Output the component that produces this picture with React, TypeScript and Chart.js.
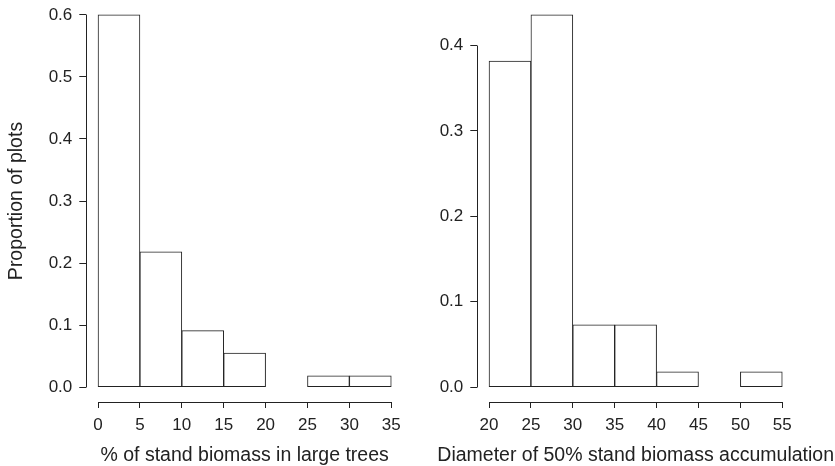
import React, { useEffect, useRef } from "react";
import { Chart, registerables } from "chart.js";

Chart.register(...registerables);

// ---------- data ----------
const binWidth = 5;

const leftBinStarts = [0, 5, 10, 15, 20, 25, 30];
const leftProportions = [0.6, 0.218, 0.091, 0.055, 0, 0.018, 0.018];
const leftXTicks = [0, 5, 10, 15, 20, 25, 30, 35];
const leftYTicks = [0, 0.1, 0.2, 0.3, 0.4, 0.5, 0.6];

const rightBinStarts = [20, 25, 30, 35, 40, 45, 50];
const rightProportions = [0.382, 0.436, 0.073, 0.073, 0.018, 0, 0.018];
const rightXTicks = [20, 25, 30, 35, 40, 45, 50, 55];
const rightYTicks = [0, 0.1, 0.2, 0.3, 0.4];

const leftXTitle = "% of stand biomass in large trees";
const rightXTitle = "Diameter of 50% stand biomass accumulation";
const yTitleText = "Proportion of plots";

// ---------- style ----------
const INK = "#222222";
const FAMILY = '"Liberation Sans", Arial, Helvetica, sans-serif';
const TICK_SIZE = 17;
const TITLE_SIZE = 19.5;

type Panel = {
  starts: number[];
  values: number[];
  xTicks: number[];
  yTicks: number[];
  xTitle: string;
  yTitle?: string;
  canvasLeft: number;
  canvasWidth: number;
  yAxisWidth: number;
  padRight: number;
};

const HEIGHT = 466;
const X_AXIS_HEIGHT = 64;
const TITLE_BASELINE = 461;

const alignPx = (chart: any, px: number, w: number) => {
  const dpr = chart.currentDevicePixelRatio || 1;
  const half = w / 2;
  return Math.round((px - half) * dpr) / dpr + half;
};

const rAxesPlugin = {
  id: "rAxes",
  afterDraw(chart: any, _args: any, opts: any) {
    const { ctx, chartArea } = chart;
    const xs = chart.scales.x;
    const ys = chart.scales.y;
    ctx.save();
    ctx.strokeStyle = INK;
    ctx.lineWidth = 1;
    // x axis line spanning first to last tick
    const xy = alignPx(chart, chartArea.bottom, 1);
    ctx.beginPath();
    ctx.moveTo(alignPx(chart, xs.getPixelForValue(opts.xTicks[0]), 1), xy);
    ctx.lineTo(alignPx(chart, xs.getPixelForValue(opts.xTicks[opts.xTicks.length - 1]), 1), xy);
    ctx.stroke();
    // y axis line spanning first to last tick
    const yx = alignPx(chart, chartArea.left, 1);
    ctx.beginPath();
    ctx.moveTo(yx, alignPx(chart, ys.getPixelForValue(opts.yTicks[0]), 1));
    ctx.lineTo(yx, alignPx(chart, ys.getPixelForValue(opts.yTicks[opts.yTicks.length - 1]), 1));
    ctx.stroke();
    // x axis title, centred on the plot region
    ctx.fillStyle = INK;
    ctx.font = `${TITLE_SIZE}px ${FAMILY}`;
    ctx.textAlign = "center";
    ctx.textBaseline = "alphabetic";
    ctx.fillText(opts.xTitle, (chartArea.left + chartArea.right) / 2, TITLE_BASELINE);
    ctx.restore();
  },
};

function makeConfig(p: Panel): any {
  const xMin = p.xTicks[0];
  const xMax = p.xTicks[p.xTicks.length - 1];
  const xPad = (xMax - xMin) * 0.04;
  const yMaxData = Math.max(...p.values);
  const yPad = yMaxData * 0.04;
  const tickFont = { family: FAMILY, size: TICK_SIZE };
  return {
    type: "bar",
    data: {
      datasets: [
        {
          data: p.starts.map((s, i) => ({
            x: s + binWidth / 2,
            y: p.values[i] > 0 ? p.values[i] : null,
          })),
          backgroundColor: "#ffffff",
          borderColor: INK,
          borderWidth: 1,
          borderSkipped: false,
          barPercentage: 1,
          categoryPercentage: 1,
        },
      ],
    },
    options: {
      animation: false,
      responsive: false,
      events: [],
      layout: { padding: { left: 0, top: 0, right: p.padRight, bottom: 0 } },
      plugins: {
        legend: { display: false },
        tooltip: { enabled: false },
        title: { display: false },
        rAxes: { xTicks: p.xTicks, yTicks: p.yTicks, xTitle: p.xTitle },
      },
      scales: {
        x: {
          type: "linear",
          offset: false,
          min: xMin - xPad,
          max: xMax + xPad,
          afterBuildTicks: (s: any) => {
            s.ticks = p.xTicks.map((v) => ({ value: v }));
          },
          afterFit: (s: any) => {
            s.height = X_AXIS_HEIGHT;
            s.paddingLeft = 0;
            s.paddingRight = 0;
          },
          grid: {
            display: true,
            offset: false,
            drawOnChartArea: false,
            drawTicks: true,
            tickLength: 6,
            color: INK,
            lineWidth: 1,
          },
          border: { display: false },
          ticks: {
            padding: 7,
            color: INK,
            font: tickFont,
            maxRotation: 0,
            minRotation: 0,
            autoSkip: false,
            callback: (v: any) => String(v),
          },
        },
        y: {
          type: "linear",
          min: -yPad,
          max: yMaxData + yPad,
          afterBuildTicks: (s: any) => {
            s.ticks = p.yTicks.map((v) => ({ value: v }));
          },
          afterFit: (s: any) => {
            s.width = p.yAxisWidth;
            s.paddingTop = 0;
            s.paddingBottom = 0;
          },
          grid: {
            display: true,
            drawOnChartArea: false,
            drawTicks: true,
            tickLength: 7,
            color: INK,
            lineWidth: 1,
          },
          border: { display: false },
          ticks: {
            padding: 7,
            color: INK,
            font: tickFont,
            autoSkip: false,
            callback: (v: any) => Number(v).toFixed(1),
          },
          title: p.yTitle
            ? {
                display: true,
                text: p.yTitle,
                color: INK,
                font: { family: FAMILY, size: TITLE_SIZE },
                padding: { top: 4.5, bottom: 0 },
              }
            : { display: false },
        },
      },
    },
    plugins: [rAxesPlugin],
  };
}

const panels: Panel[] = [
  {
    starts: leftBinStarts,
    values: leftProportions,
    xTicks: leftXTicks,
    yTicks: leftYTicks,
    xTitle: leftXTitle,
    yTitle: yTitleText,
    canvasLeft: 0,
    canvasWidth: 417,
    yAxisWidth: 86.3,
    padRight: 14,
  },
  {
    starts: rightBinStarts,
    values: rightProportions,
    xTicks: rightXTicks,
    yTicks: rightYTicks,
    xTitle: rightXTitle,
    canvasLeft: 417,
    canvasWidth: 418,
    yAxisWidth: 60.3,
    padRight: 41,
  },
];

function HistPanel({ panel }: { panel: Panel }) {
  const ref = useRef<HTMLCanvasElement | null>(null);
  useEffect(() => {
    if (!ref.current) return;
    const chart = new Chart(ref.current, makeConfig(panel));
    return () => chart.destroy();
  }, [panel]);
  return (
    <canvas
      ref={ref}
      width={panel.canvasWidth}
      height={HEIGHT}
      style={{
        position: "absolute",
        left: panel.canvasLeft,
        top: 0,
        width: panel.canvasWidth,
        height: HEIGHT,
        display: "block",
      }}
    />
  );
}

export default function App() {
  return (
    <div
      style={{
        position: "absolute",
        left: 0,
        top: 0,
        width: 835,
        height: HEIGHT,
        background: "#ffffff",
        overflow: "hidden",
      }}
    >
      {panels.map((p, i) => (
        <HistPanel key={i} panel={p} />
      ))}
    </div>
  );
}
